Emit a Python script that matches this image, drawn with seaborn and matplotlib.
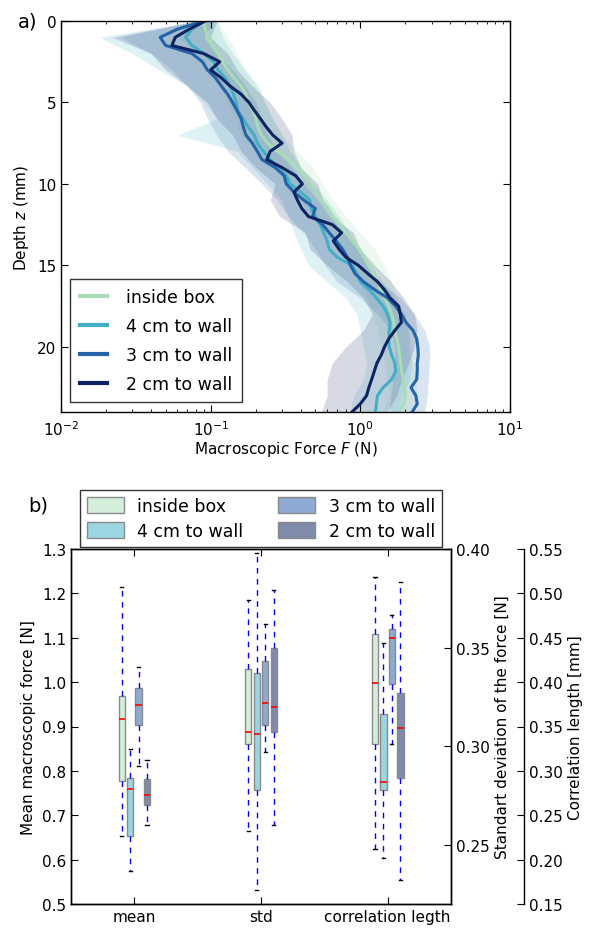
import numpy as np
import pandas as pd
import matplotlib
matplotlib.use("Agg")
import matplotlib.pyplot as plt
import seaborn as sns
from matplotlib.patches import Patch

# ---------------- data: panel a ----------------
series_names = ["inside box", "4 cm to wall", "3 cm to wall", "2 cm to wall"]
line_colors = ["#a8ddb5", "#41afc6", "#2563a8", "#0c2461"]
band_colors = ["#a8ddb5", "#5dbdd0", "#4a7fb8", "#3a4a7c"]
box_colors = ["#d4eedb", "#9bd5e1", "#8eaad2", "#808aaa"]

depth = [0, 0.5, 1, 1.5, 2, 2.5, 3, 3.5, 4, 4.5, 5, 5.5, 6, 6.5, 7, 7.5, 8, 8.5, 9, 9.5,
         10, 10.5, 11, 11.5, 12, 12.5, 13, 13.5, 14, 14.5, 15, 15.5, 16, 16.5, 17, 17.5,
         18, 18.5, 19, 19.5, 20, 20.5, 21, 21.5, 22, 22.5, 23, 23.5, 24]

force_inside = [0.090, 0.092, 0.095, 0.102, 0.112, 0.120, 0.130, 0.143, 0.160, 0.172,
                0.178, 0.192, 0.200, 0.207, 0.218, 0.240, 0.280, 0.330, 0.380, 0.430,
                0.470, 0.510, 0.550, 0.610, 0.660, 0.730, 0.800, 0.890, 0.980, 1.06,
                1.14, 1.22, 1.30, 1.36, 1.45, 1.55, 1.62, 1.67, 1.70, 1.75,
                1.80, 1.83, 1.86, 1.89, 1.93, 1.97, 2.00, 1.95, 1.80]
force_4cm = [0.090, 0.075, 0.068, 0.075, 0.090, 0.105, 0.112, 0.125, 0.135, 0.142,
             0.148, 0.152, 0.165, 0.178, 0.195, 0.205, 0.225, 0.250, 0.280, 0.320,
             0.340, 0.400, 0.460, 0.470, 0.500, 0.540, 0.570, 0.600, 0.620, 0.700,
             0.880, 0.950, 1.00, 1.15, 1.28, 1.42, 1.52, 1.58, 1.56, 1.55,
             1.56, 1.62, 1.70, 1.72, 1.62, 1.42, 1.30, 1.28, 1.26]
force_3cm = [0.090, 0.060, 0.046, 0.050, 0.075, 0.088, 0.095, 0.108, 0.118, 0.130,
             0.140, 0.150, 0.160, 0.165, 0.172, 0.190, 0.205, 0.220, 0.270, 0.310,
             0.320, 0.360, 0.420, 0.500, 0.480, 0.560, 0.620, 0.690, 0.760, 0.820,
             0.860, 0.920, 1.05, 1.25, 1.52, 1.72, 1.88, 2.02, 2.25, 2.38,
             2.42, 2.44, 2.40, 2.40, 2.38, 2.18, 2.35, 2.40, 2.22]
force_2cm = [0.092, 0.072, 0.058, 0.055, 0.090, 0.115, 0.100, 0.118, 0.135, 0.160,
             0.180, 0.196, 0.215, 0.235, 0.260, 0.300, 0.250, 0.237, 0.300, 0.370,
             0.410, 0.360, 0.380, 0.406, 0.450, 0.650, 0.750, 0.660, 0.720, 0.800,
             0.970, 1.12, 1.30, 1.45, 1.58, 1.80, 1.85, 1.88, 1.70, 1.55,
             1.45, 1.38, 1.29, 1.24, 1.19, 1.14, 1.10, 1.00, 0.88]

depth_band = list(range(25))
lo_inside = [0.075, 0.060, 0.080, 0.095, 0.115, 0.130, 0.145, 0.160, 0.200, 0.270, 0.340, 0.400,
             0.480, 0.580, 0.720, 0.850, 0.980, 1.10, 1.22, 1.30, 1.40, 1.45, 1.50, 1.55, 1.40]
hi_inside = [0.110, 0.130, 0.150, 0.170, 0.200, 0.230, 0.260, 0.300, 0.380, 0.480, 0.560, 0.660,
             0.800, 1.00, 1.25, 1.45, 1.60, 1.75, 1.95, 2.10, 2.20, 2.25, 2.35, 2.40, 2.30]
lo_4cm = [0.080, 0.018, 0.030, 0.045, 0.070, 0.090, 0.110, 0.060, 0.150, 0.190, 0.240, 0.300,
          0.330, 0.360, 0.400, 0.450, 0.600, 0.800, 0.950, 1.00, 1.05, 1.10, 1.05, 0.900, 0.850]
hi_4cm = [0.110, 0.120, 0.140, 0.170, 0.210, 0.230, 0.260, 0.300, 0.340, 0.400, 0.480, 0.600,
          0.720, 0.850, 0.950, 1.15, 1.40, 1.70, 2.00, 2.10, 2.10, 2.20, 2.15, 1.90, 1.80]
lo_3cm = [0.080, 0.025, 0.040, 0.055, 0.070, 0.085, 0.095, 0.110, 0.130, 0.170, 0.220, 0.280,
          0.330, 0.420, 0.500, 0.580, 0.700, 1.00, 1.30, 1.60, 1.70, 1.70, 1.65, 1.60, 1.55]
hi_3cm = [0.105, 0.090, 0.110, 0.140, 0.170, 0.200, 0.220, 0.240, 0.280, 0.350, 0.420, 0.520,
          0.620, 0.780, 0.950, 1.10, 1.35, 1.85, 2.30, 2.70, 2.90, 2.90, 2.85, 2.80, 2.70]
lo_2cm = [0.080, 0.022, 0.040, 0.050, 0.070, 0.095, 0.110, 0.140, 0.160, 0.200, 0.270, 0.250,
          0.290, 0.430, 0.460, 0.600, 0.820, 1.05, 1.20, 1.05, 0.800, 0.650, 0.600, 0.600, 0.550]
hi_2cm = [0.110, 0.100, 0.130, 0.150, 0.190, 0.250, 0.300, 0.350, 0.360, 0.400, 0.520, 0.560,
          0.650, 0.900, 1.00, 1.25, 1.60, 1.95, 2.30, 2.40, 2.30, 2.10, 1.90, 1.75, 1.50]

# ---------------- data: panel b ----------------
groups = ["mean", "std", "correlation legth"]
# order of values: [whislo, q1, med, q3, whishi]
mean_stats = {
    "inside box":   [0.653, 0.778, 0.917, 0.968, 1.214],
    "4 cm to wall": [0.575, 0.653, 0.759, 0.784, 0.850],
    "3 cm to wall": [0.811, 0.904, 0.949, 0.987, 1.035],
    "2 cm to wall": [0.679, 0.724, 0.745, 0.782, 0.825],
}
std_stats = {
    "inside box":   [0.257, 0.301, 0.307, 0.339, 0.374],
    "4 cm to wall": [0.227, 0.278, 0.306, 0.337, 0.398],
    "3 cm to wall": [0.297, 0.311, 0.322, 0.343, 0.362],
    "2 cm to wall": [0.260, 0.307, 0.320, 0.350, 0.379],
}
corr_stats = {
    "inside box":   [0.212, 0.330, 0.399, 0.454, 0.519],
    "4 cm to wall": [0.202, 0.279, 0.287, 0.364, 0.444],
    "3 cm to wall": [0.330, 0.398, 0.450, 0.460, 0.476],
    "2 cm to wall": [0.177, 0.292, 0.348, 0.388, 0.513],
}

# ---------------- style ----------------
plt.rcParams.update({
    "font.family": ["DejaVu Sans"],
    "font.size": 11,
    "xtick.direction": "in",
    "ytick.direction": "in",
    "xtick.major.size": 5,
    "ytick.major.size": 5,
    "xtick.minor.size": 2.5,
    "ytick.minor.size": 2.5,
    "axes.linewidth": 1.0,
    "legend.fancybox": False,
    "mathtext.fontset": "dejavusans",
})

W, H = 609, 929
fig = plt.figure(figsize=(W / 100, H / 100), dpi=100)

def ax_rect(l, t, r, b):
    return [l / W, 1 - b / H, (r - l) / W, (b - t) / H]

# ---------------- panel a ----------------
ax = fig.add_axes(ax_rect(61, 22, 510, 413))
forces = [force_inside, force_4cm, force_3cm, force_2cm]
los = [lo_inside, lo_4cm, lo_3cm, lo_2cm]
his = [hi_inside, hi_4cm, hi_3cm, hi_2cm]
for name, c, lo, hi in zip(series_names, band_colors, los, his):
    ax.fill_betweenx(depth_band, lo, hi, color=c, alpha=0.2, linewidth=0)
for name, c, f in zip(series_names, line_colors, forces):
    df = pd.DataFrame({"F": f, "z": depth})
    sns.lineplot(data=df, x="F", y="z", sort=False, estimator=None, color=c,
                 linewidth=2.2, ax=ax, label=name)
ax.set_xscale("log")
ax.set_xlim(1e-2, 1e1)
ax.set_ylim(24, 0)
ax.set_yticks([0, 5, 10, 15, 20])
ax.tick_params(which="both", top=True, right=True, labelsize=11)
ax.tick_params(axis="x", pad=5)
ax.set_xlabel("Macroscopic Force $F$ (N)", fontsize=11, labelpad=1)
ax.set_ylabel("Depth $z$ (mm)", fontsize=11)
leg = ax.legend(loc="lower left", bbox_to_anchor=(0.02, 0.025), borderaxespad=0,
                fontsize=12.5, handlelength=1.6, handletextpad=1.1, labelspacing=0.62,
                borderpad=0.55, frameon=True)
leg.get_frame().set_edgecolor("black")
leg.get_frame().set_linewidth(1.0)
for ln in leg.get_lines():
    ln.set_linewidth(3)
fig.text(18 / W, 1 - 22 / H, "a)", fontsize=14, va="center", ha="left")

# ---------------- panel b ----------------
axb = fig.add_axes(ax_rect(71, 550, 451, 905))
ax2 = axb.twinx()
ax3 = axb.twinx()
offsets = [-0.1, -0.033, 0.033, 0.1]
group_axes = [axb, ax2, ax3]
group_stats = [mean_stats, std_stats, corr_stats]
for gi, (gax, gstats) in enumerate(zip(group_axes, group_stats)):
    for si, name in enumerate(series_names):
        wl, q1, med, q3, wh = gstats[name]
        st = [{"whislo": wl, "q1": q1, "med": med, "q3": q3, "whishi": wh, "fliers": []}]
        gax.bxp(st, positions=[gi + 1 + offsets[si]], widths=0.05, patch_artist=True,
                showfliers=False, manage_ticks=False, capwidths=0.025,
                boxprops=dict(facecolor=box_colors[si], edgecolor="#8a8a8a", linewidth=1.0),
                whiskerprops=dict(color="blue", linestyle=(0, (4, 4)), linewidth=1.0),
                capprops=dict(color="black", linewidth=1.0),
                medianprops=dict(color="red", linewidth=1.2))

axb.set_xlim(0.5, 3.5)
axb.set_ylim(0.5, 1.3)
axb.set_yticks(np.arange(0.5, 1.31, 0.1))
axb.set_yticklabels([f"{v:.1f}" for v in np.arange(0.5, 1.31, 0.1)])
axb.set_xticks([1, 2, 3])
axb.set_xticklabels(groups)
axb.tick_params(axis="x", top=True, labelsize=11)
axb.tick_params(axis="y", labelsize=11)
axb.set_ylabel("Mean macroscopic force [N]", fontsize=11)

ax2.set_ylim(0.22, 0.40)
ax2.set_yticks([0.25, 0.30, 0.35, 0.40])
ax2.set_yticklabels(["0.25", "0.30", "0.35", "0.40"])
ax2.tick_params(axis="y", labelsize=11)
ax2.set_ylabel("Standart deviation of the force [N]", fontsize=11)

ax3.set_ylim(0.15, 0.55)
t3 = np.arange(0.15, 0.551, 0.05)
ax3.set_yticks(t3)
ax3.set_yticklabels([f"{v:.2f}" for v in t3])
ax3.spines["right"].set_position(("axes", (524 - 71) / 380))
for s in ["left", "top", "bottom"]:
    ax3.spines[s].set_visible(False)
ax3.patch.set_visible(False)
ax3.tick_params(axis="y", labelsize=11)
ax3.set_ylabel("Correlation length [mm]", fontsize=11)

handles = [Patch(facecolor=box_colors[i], edgecolor="#8a8a8a", label=series_names[i]) for i in range(4)]
legb = axb.legend(handles=handles, loc="lower left", bbox_to_anchor=(0.024, 1.006),
                  borderaxespad=0, ncol=2, fontsize=12.5, handlelength=2.1, handleheight=1.0,
                  handletextpad=0.8, columnspacing=2.0, labelspacing=0.4, borderpad=0.4)
legb.get_frame().set_edgecolor("black")
legb.get_frame().set_linewidth(1.0)
fig.text(28 / W, 1 - 506 / H, "b)", fontsize=14, va="center", ha="left")

fig.savefig("out.png", dpi=100)
